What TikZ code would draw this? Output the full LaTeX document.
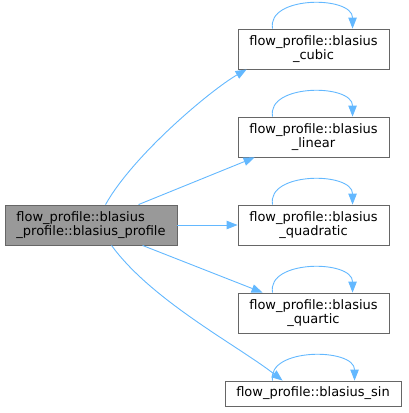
\documentclass[tikz,border=0pt]{standalone}
\usepackage{fontspec}
\setmainfont{DejaVu Sans}
\usetikzlibrary{arrows.meta,calc}
\definecolor{edgeblue}{HTML}{63B8FF}
\definecolor{boxgray}{HTML}{666666}
\definecolor{mainfill}{HTML}{999999}
\tikzset{
  fbox/.style={draw=boxgray,line width=0.9pt,fill=white,inner sep=0pt,
    font=\fontsize{13}{14}\selectfont,align=center},
  mainbox/.style={fbox,fill=mainfill,align=left},
  edge/.style={draw=edgeblue,line width=0.9pt,-{Triangle[length=11pt,width=8.5pt]}},
}
\begin{document}
\begin{tikzpicture}[x=1pt,y=-1pt]
\useasboundingbox (0,0) rectangle (408,413);
\node[mainbox,minimum width=172pt,minimum height=40pt] (main) at (91,225)
  {flow\_profile::blasius\\\_profile::blasius\_profile};
\node[fbox,minimum width=151pt,minimum height=40pt] (cubic) at (313.5,49)
  {flow\_profile::blasius\\\_cubic};
\node[fbox,minimum width=151pt,minimum height=40pt] (linear) at (313.5,137)
  {flow\_profile::blasius\\\_linear};
\node[fbox,minimum width=151pt,minimum height=40pt] (quad) at (313.5,225)
  {flow\_profile::blasius\\\_quadratic};
\node[fbox,minimum width=151pt,minimum height=40pt] (quart) at (313.5,313)
  {flow\_profile::blasius\\\_quartic};
\node[fbox,minimum width=176pt,minimum height=25pt] (sin) at (313,393.5)
  {flow\_profile::blasius\_sin};
% edges from main
\draw[edge] ($(main.north west)+(101,0)$) .. controls +(28,-50) and +(-35,20) .. ($(cubic.south west)+(9,0)$);
\draw[edge] ($(main.north west)+(134,0)$) -- ($(linear.south west)+(17,0)$);
\draw[edge] (main.east) -- (quad.west);
\draw[edge] ($(main.south west)+(138,0)$) -- ($(quart.north west)+(25,0)$);
\draw[edge] ($(main.south west)+(107,0)$) .. controls +(40,55) and +(-45,-35) .. ($(sin.north west)+(58,0)$);
% self loops
\foreach \n in {cubic,linear,quad,quart}{
  \draw[edge] ($(\n.north west)+(35,0)$) .. controls +(-6,-33) and +(0,-33) .. ($(\n.north west)+(115,0)$);
}
\draw[edge] ($(sin.north west)+(48,0)$) .. controls +(-6,-33) and +(0,-33) .. ($(sin.north west)+(130,0)$);
\end{tikzpicture}
\end{document}
